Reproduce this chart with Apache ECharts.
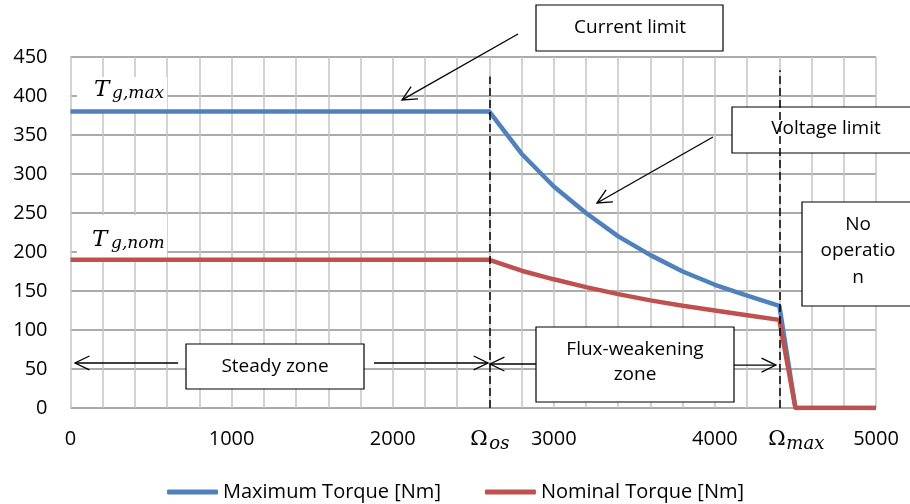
<!DOCTYPE html>
<html><head><meta charset="utf-8">
<script src="https://cdn.jsdelivr.net/npm/echarts@6/dist/echarts.min.js"></script>
<style>html,body{margin:0;padding:0;background:#fff}#c{width:910px;height:504px}</style>
</head><body><div id="c"></div>
<script>
// ---- data ----
const speed     = [0, 2600, 2800, 3000, 3200, 3400, 3600, 3800, 4000, 4200, 4400, 4500, 5000];
const maxTorque = [380, 380, 326, 284, 250, 220, 196, 175, 158, 144, 131, 0, 0];
const nomTorque = [190, 190, 176, 165, 155, 146, 138, 131, 125, 119, 113, 0, 0];
const xTickLabels = [0, 1000, 2000, 3000, 4000, 5000];
const omegaOs = 2600, omegaMax = 4400;
const seriesNames = ['Maximum Torque [Nm]', 'Nominal Torque [Nm]'];
const dashTop = [425, 433];

const FONT = '"Open Sans", "Noto Sans", sans-serif';
const SERIF = '"DejaVu Serif", "Liberation Serif", serif';
const BLUE = '#4F81BD', RED = '#C0504D';

const chart = echarts.init(document.getElementById('c'), null, {renderer: 'canvas'});

const pairs = a => speed.map((s, i) => [s, a[i]]);

chart.setOption({
  animation: false,
  backgroundColor: '#fff',
  grid: {left: 70.5, right: 34, top: 57, bottom: 96},
  legend: {
    left: 162, top: 477, itemGap: 44, itemWidth: 51, itemHeight: 5, icon: 'roundRect',
    textStyle: {fontFamily: FONT, fontSize: 20, color: '#000'},
    data: seriesNames
  },
  xAxis: {
    type: 'value', min: 0, max: 5000, interval: 200,
    axisLine: {show: false}, axisTick: {show: false},
    axisLabel: {
      margin: 21, fontFamily: FONT, fontSize: 20, color: '#000',
      formatter: v => xTickLabels.indexOf(v) >= 0 ? String(v) : ''
    },
    splitLine: {show: true, lineStyle: {color: '#c4c4c4', width: 1.5}}
  },
  yAxis: {
    type: 'value', min: 0, max: 450, interval: 50,
    axisLine: {show: false}, axisTick: {show: false},
    axisLabel: {margin: 23, fontFamily: FONT, fontSize: 20, color: '#000'},
    splitLine: {show: true, lineStyle: {color: '#8f8f8f', width: 1.5}}
  },
  series: [
    {
      name: seriesNames[0], type: 'line', data: pairs(maxTorque), symbol: 'none', z: 3,
      lineStyle: {color: BLUE, width: 4.5}, itemStyle: {color: BLUE},
      markLine: {
        silent: true, symbol: 'none', label: {show: false},
        lineStyle: {color: '#000', type: [8, 4], width: 1.5},
        data: [
          [{coord: [omegaOs, 0]}, {coord: [omegaOs, dashTop[0]]}],
          [{coord: [omegaMax, 0]}, {coord: [omegaMax, dashTop[1]]}]
        ]
      }
    },
    {
      name: seriesNames[1], type: 'line', data: pairs(nomTorque), symbol: 'none', z: 4,
      lineStyle: {color: RED, width: 4.5}, itemStyle: {color: RED}
    }
  ]
});

// ---- annotations ----
const P = (x, y) => chart.convertToPixel({gridIndex: 0}, [x, y]);
const els = [];
function box(x, y, w, h) {
  els.push({type: 'rect', z: 1, shape: {x, y, width: w, height: h},
    style: {fill: '#fff', stroke: '#000', lineWidth: 1.2}});
}
function wbox(x, y, w, h) {
  els.push({type: 'rect', z: 1, shape: {x, y, width: w, height: h}, style: {fill: '#fff'}});
}
function text(t, x, y, size, lh, opts) {
  els.push({type: 'text', z: 5, style: Object.assign({text: t, x, y, fill: '#000',
    fontFamily: FONT, fontSize: size, lineHeight: lh || size * 1.3, align: 'center', verticalAlign: 'middle'}, opts || {})});
}
function arrow(a, b) {
  const p0 = P(a[0], a[1]), p1 = P(b[0], b[1]);
  const ang = Math.atan2(p1[1] - p0[1], p1[0] - p0[0]);
  const L = 16, w = 0.45;
  const h1 = [p1[0] - L * Math.cos(ang - w), p1[1] - L * Math.sin(ang - w)];
  const h2 = [p1[0] - L * Math.cos(ang + w), p1[1] - L * Math.sin(ang + w)];
  els.push({type: 'line', z: 6, shape: {x1: p0[0], y1: p0[1], x2: p1[0], y2: p1[1]},
    style: {stroke: '#000', lineWidth: 1.3}});
  els.push({type: 'polyline', z: 6, shape: {points: [h1, p1, h2]},
    style: {stroke: '#000', lineWidth: 1.3, fill: null}});
}

// T labels
wbox(77, 77, 90, 33);
wbox(77, 215, 90, 43);
function mathLabel(main, sub, x, baseY, mainSize, subSize, subDrop, mainItalic, subX) {
  els.push({type: 'text', z: 5, style: {text: main, x, y: baseY - 0.36 * mainSize, fill: '#000',
    fontFamily: SERIF, fontSize: mainSize, fontStyle: mainItalic ? 'italic' : 'normal',
    align: 'left', verticalAlign: 'middle'}});
  els.push({type: 'text', z: 5, style: {text: sub, x: subX, y: baseY + subDrop - 0.36 * subSize, fill: '#000',
    fontFamily: SERIF, fontSize: subSize, fontStyle: 'italic', align: 'left', verticalAlign: 'middle'}});
}
mathLabel('T', 'g,max', 94, 98, 23, 17, 2, true, 112);
mathLabel('T', 'g,nom', 92, 248, 23, 17, 2, true, 111);

// Omega axis labels
const xo = P(omegaOs, 0)[0], xm = P(omegaMax, 0)[0];
mathLabel('Ω', 'os', xo - 19, 447, 21, 18, 4, false, xo + 0);
mathLabel('Ω', 'max', xm - 11, 447, 21, 18, 4, false, xm + 7);

// text boxes
box(536, 5, 187, 46);   text('Current limit', 630, 28, 19);
box(732, 107, 190, 46); text('Voltage limit', 826, 128.5, 19);
box(802, 202, 120, 104); text('No\noperatio\nn', 858, 251, 19, 26.6);
box(186, 344, 178, 45); text('Steady zone', 275, 366.6, 19);
box(536, 327, 198, 75); text('Flux-weakening\nzone', 635, 362, 19, 24.7);

// arrows
arrow([2778, 479.5], [2058, 395]);
arrow([3988, 347.4], [3268, 262.8]);
arrow([668, 57.7], [28, 57.7]);
arrow([1884, 57.7], [2592, 57.7]);
arrow([2890, 56.4], [2604, 56.4]);
arrow([4118, 55], [4379, 55]);

chart.setOption({graphic: {elements: els}});
</script>
</body></html>
